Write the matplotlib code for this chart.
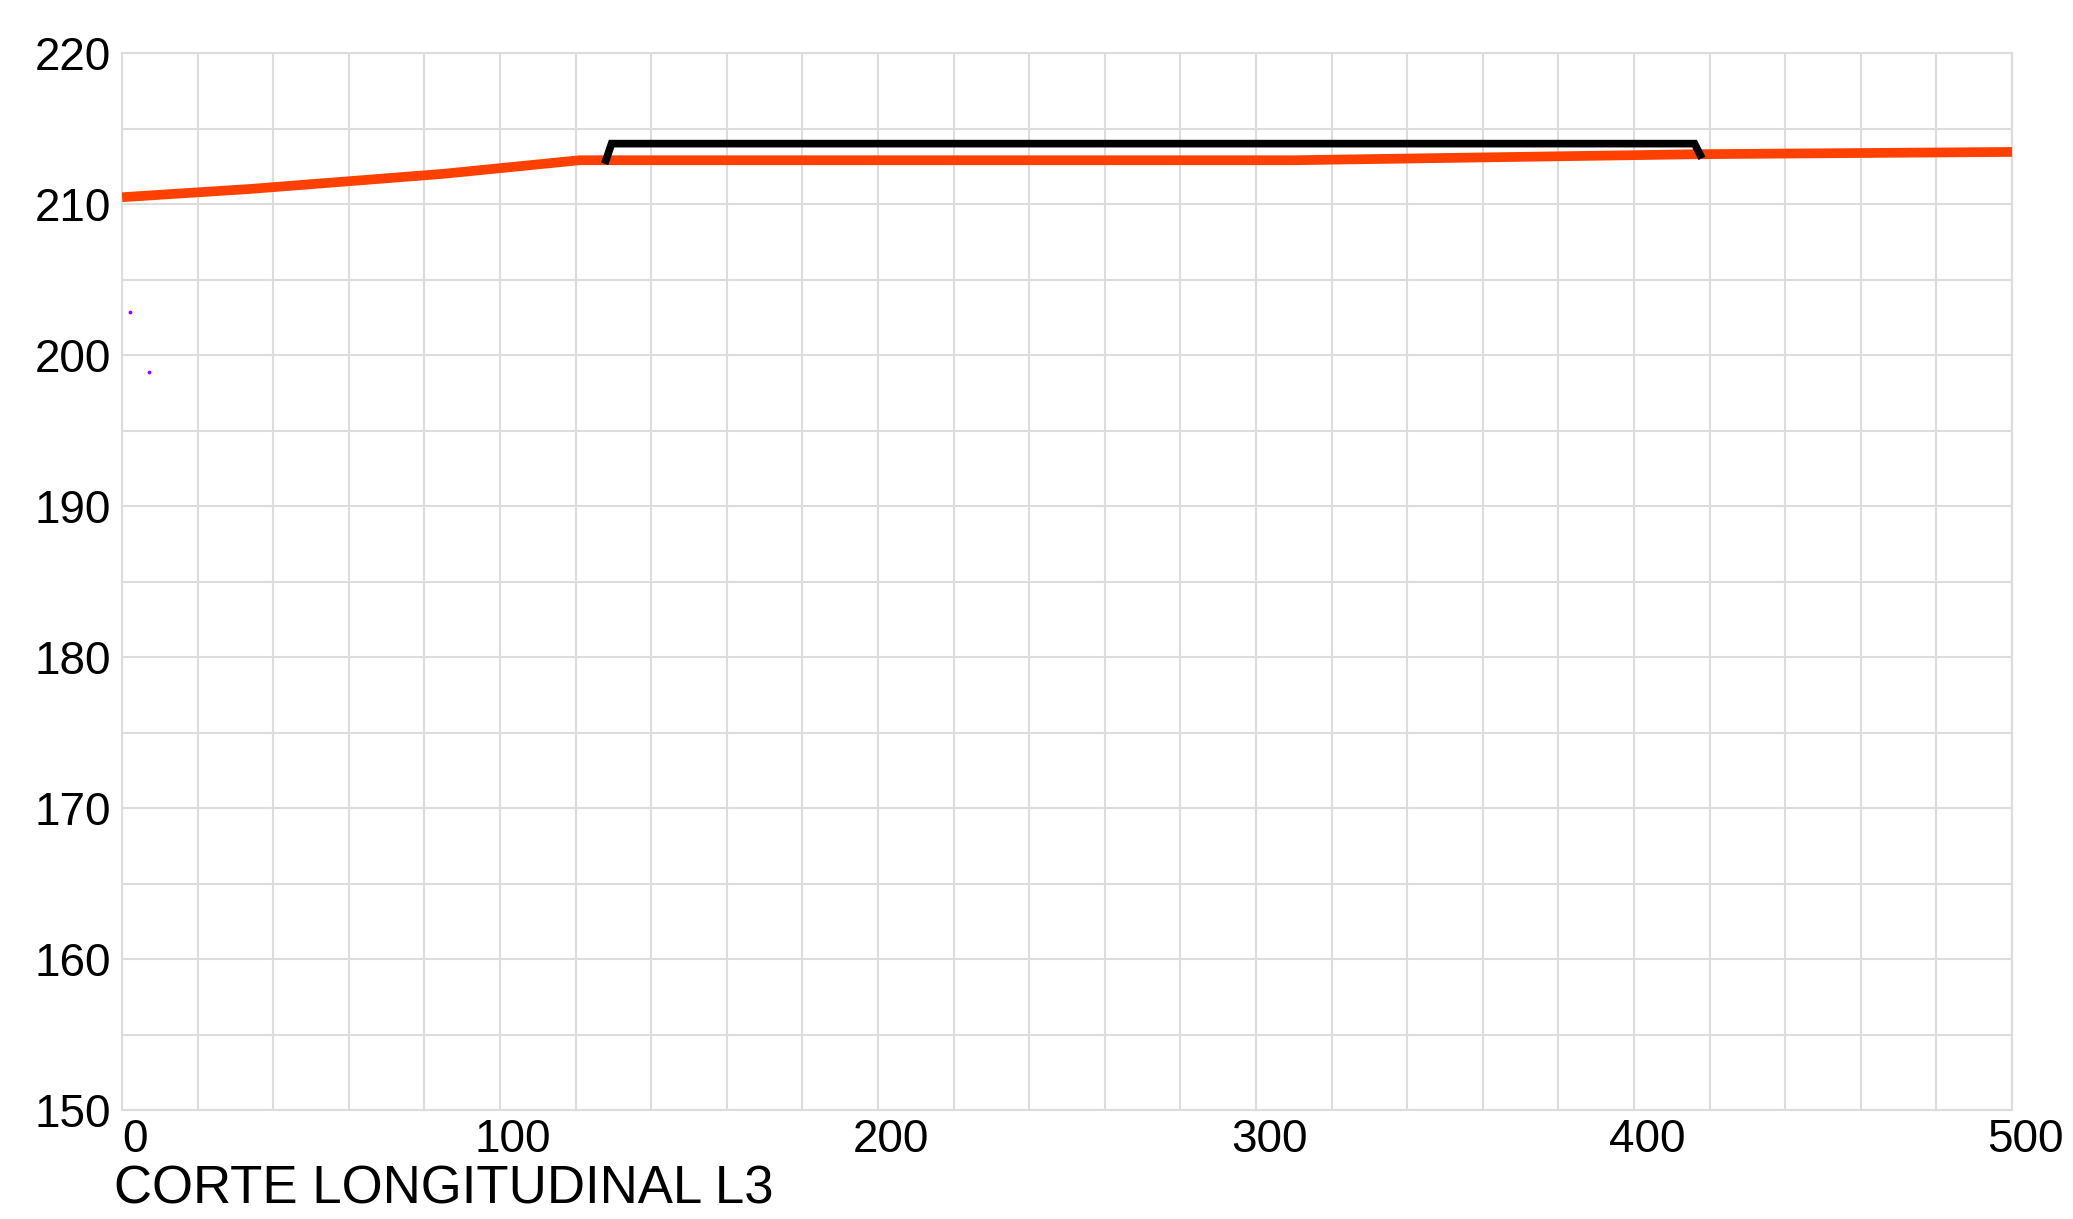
import matplotlib
matplotlib.use("Agg")
import matplotlib.pyplot as plt
from matplotlib.ticker import MultipleLocator
from matplotlib.transforms import ScaledTranslation

plt.rcParams['font.family'] = ['Liberation Sans Narrow', 'Liberation Sans', 'DejaVu Sans']

# terrain profile (distance, elevation)
station = [0, 34, 85, 121, 310, 417, 500]
elevation = [210.45, 211.0, 212.0, 212.9, 212.9, 213.3, 213.45]

# black bracket above the profile
bracket_x = [128, 129.5, 416, 417.5]
bracket_y = [212.9, 214.0, 214.0, 213.25]

# stray points near the left axis
dots_x = [2.1, 7.0]
dots_y = [202.85, 198.9]

title = "CORTE LONGITUDINAL L3"

fig = plt.figure(figsize=(20.73, 12.19), dpi=100)
ax = fig.add_axes([0.0589, 0.0894, 0.9117, 0.8671])

grid_color = "#dcdcdc"

ax.plot(station, elevation, color="#ff4000", lw=7, solid_capstyle="butt", zorder=3)
ax.plot(bracket_x, bracket_y, color="black", lw=5.5, solid_joinstyle="miter", zorder=4)
ax.scatter(dots_x, dots_y, s=3, color="#9900ff", zorder=5)

ax.set_xlim(0, 500)
ax.set_ylim(150, 220)
ax.xaxis.set_major_locator(MultipleLocator(100))
ax.xaxis.set_minor_locator(MultipleLocator(20))
ax.yaxis.set_major_locator(MultipleLocator(10))
ax.yaxis.set_minor_locator(MultipleLocator(5))
ax.grid(True, which="both", color=grid_color, lw=1.5)
ax.set_axisbelow(True)

for s in ax.spines.values():
    s.set_color(grid_color)
    s.set_linewidth(1.5)

ax.tick_params(which="both", length=0)
ax.tick_params(axis="y", labelsize=33, pad=8)
ax.tick_params(axis="x", labelsize=33, pad=6)

# x labels sit a bit to the right of their grid line
shift = ScaledTranslation(0.13, 0, fig.dpi_scale_trans)
for lbl in ax.get_xticklabels():
    lbl.set_transform(lbl.get_transform() + shift)

fig.text(0.055, 0.004, title, fontsize=38, va="bottom", ha="left")

fig.savefig("out.png", dpi=100)
